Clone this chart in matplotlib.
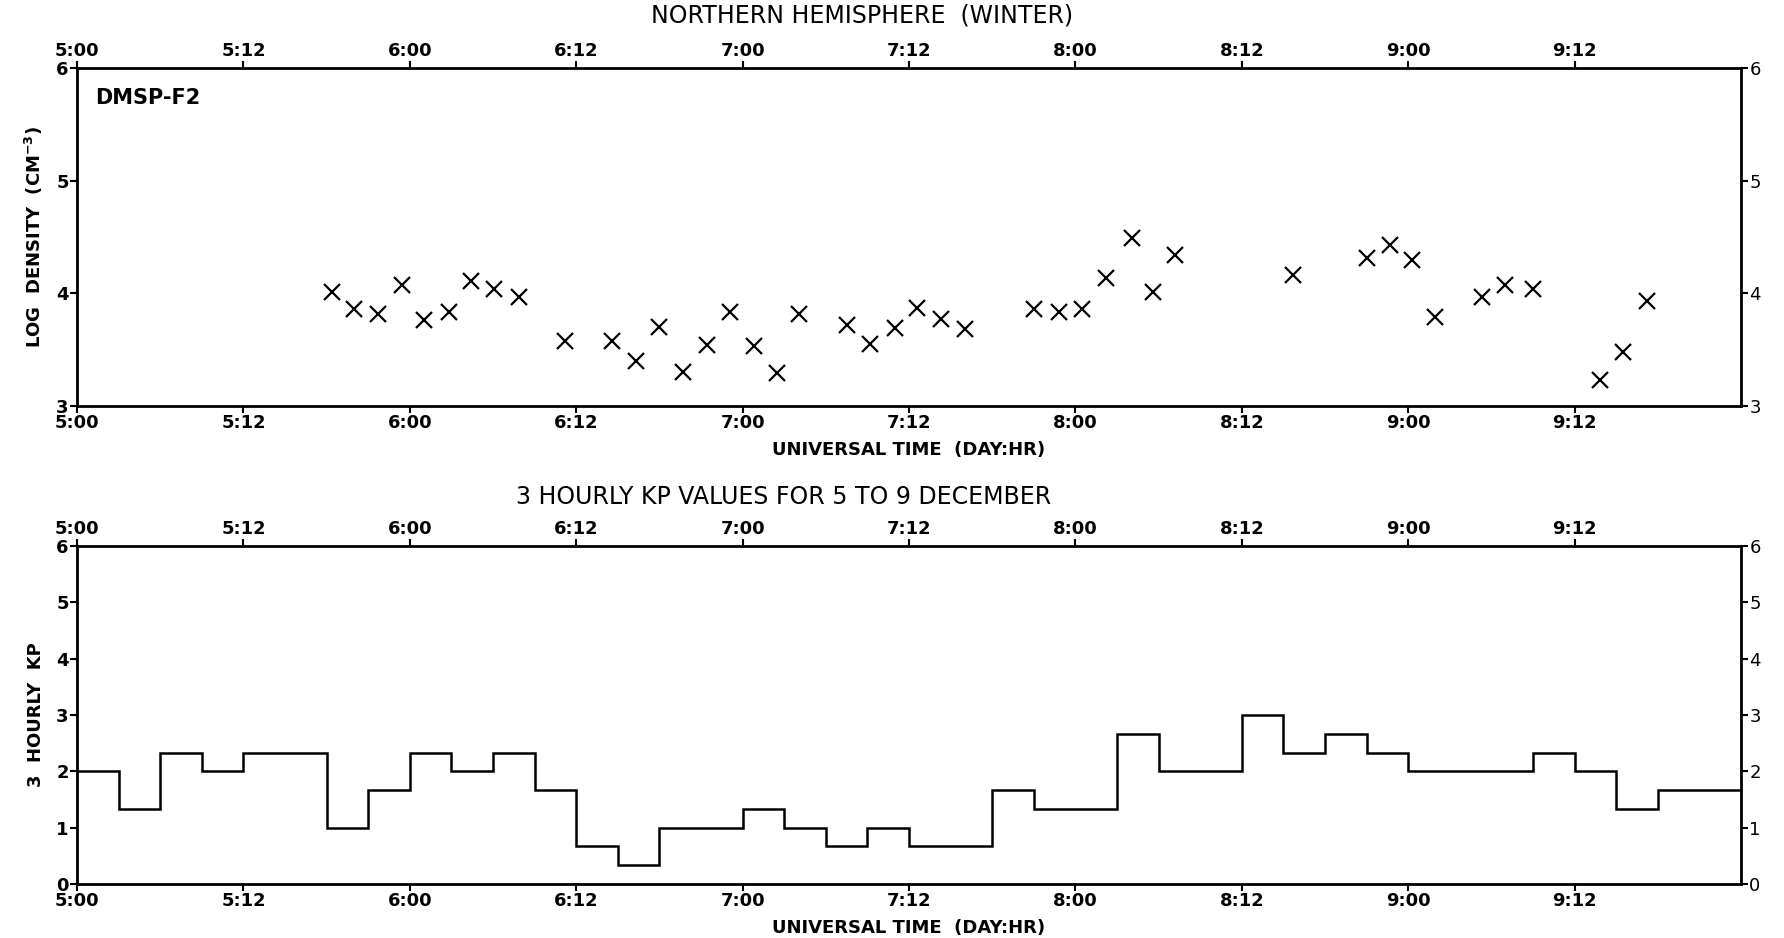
import numpy as np
import matplotlib
matplotlib.use("Agg")
import matplotlib.pyplot as plt

plt.rcParams['font.family'] = ['DejaVu Sans']

# hours after 5 Dec 00:00 UT, log density (cm^-3)
pass_hours = [18.4, 20.0, 21.7, 23.4, 25.0, 26.8, 28.4, 30.1, 31.9,
              35.2, 38.6, 40.3, 42.0, 43.7, 45.4, 47.1, 48.8, 50.5, 52.1,
              55.5, 57.2, 59.0, 60.6, 62.3, 64.0,
              69.0, 70.8, 72.5, 74.2, 76.1, 77.6, 79.2,
              87.7, 93.0, 94.7, 96.3, 97.9, 101.3, 103.0, 105.0,
              109.8, 111.5, 113.2]
log_density = [4.01, 3.86, 3.82, 4.07, 3.76, 3.83, 4.11, 4.04, 3.97,
               3.58, 3.58, 3.40, 3.70, 3.30, 3.54, 3.83, 3.53, 3.29, 3.82,
               3.72, 3.55, 3.69, 3.87, 3.77, 3.68,
               3.86, 3.83, 3.86, 4.14, 4.49, 4.01, 4.34,
               4.16, 4.31, 4.43, 4.30, 3.79, 3.97, 4.07, 4.04,
               3.23, 3.48, 3.93]

# 3-hourly Kp, 5-9 December
kp_values = [2.0, 1.33, 2.33, 2.0, 2.33, 2.33, 1.0, 1.67,
             2.33, 2.0, 2.33, 1.67, 0.67, 0.33, 1.0, 1.0,
             1.33, 1.0, 0.67, 1.0, 0.67, 0.67, 1.67, 1.33,
             1.33, 2.67, 2.0, 2.0, 3.0, 2.33, 2.67, 2.33,
             2.0, 2.0, 2.0, 2.33, 2.0, 1.33, 1.67, 1.67]
kp_edges = np.arange(0, 121, 3)

tick_hours = np.arange(0, 120, 12)
tick_labels = ["5:00", "5:12", "6:00", "6:12", "7:00", "7:12",
               "8:00", "8:12", "9:00", "9:12"]

fig = plt.figure(figsize=(17.84, 9.38), dpi=100)
ax1 = fig.add_axes([0.0432, 0.5672, 0.9327, 0.3603])
ax2 = fig.add_axes([0.0432, 0.0576, 0.9327, 0.3603])


def style_axis(ax, ymin, ymax, ylabel):
    ax.set_xlim(0, 120)
    ax.set_ylim(ymin, ymax)
    ax.set_xticks(tick_hours)
    ax.set_xticklabels(tick_labels)
    ax.set_yticks(np.arange(ymin, ymax + 1))
    ax.tick_params(axis='both', direction='out', length=5, width=1.5,
                   top=True, right=True, labeltop=True, labelright=True,
                   labelsize=13, pad=1)
    for lab in ax.get_xticklabels() + ax.get_yticklabels():
        lab.set_fontweight('bold')
    # right-hand labels are drawn lighter in the original
    for tk in ax.yaxis.get_major_ticks():
        tk.label2.set_fontweight('normal')
    for sp in ax.spines.values():
        sp.set_linewidth(2)
    ax.set_xlabel("UNIVERSAL TIME  (DAY:HR)", fontsize=13, fontweight='bold',
                  labelpad=6)
    ax.set_ylabel(ylabel, fontsize=13, fontweight='bold', labelpad=8)


ax1.plot(pass_hours, log_density, linestyle='none', marker='x',
         markersize=11, markeredgewidth=1.6, color='black')
style_axis(ax1, 3, 6, r"LOG  DENSITY  (CM$^{\mathbf{-3}}$)")
ax1.text(0.011, 0.91, "DMSP-F2", transform=ax1.transAxes, fontsize=15,
         fontweight='bold', va='center', ha='left')

ax2.stairs(kp_values, kp_edges, baseline=None, color='black', linewidth=1.8)
style_axis(ax2, 0, 6, "3  HOURLY  KP")

fig.text(0.483, 0.983, "NORTHERN HEMISPHERE  (WINTER)", fontsize=17,
         ha='center', va='center')
fig.text(0.439, 0.47, "3 HOURLY KP VALUES FOR 5 TO 9 DECEMBER", fontsize=17,
         ha='center', va='center')

fig.savefig("out.png", dpi=100, facecolor='white')
